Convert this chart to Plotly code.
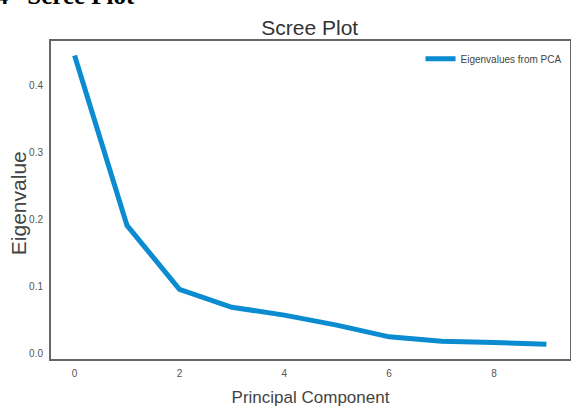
import plotly.graph_objects as go

components = [0, 1, 2, 3, 4, 5, 6, 7, 8, 9]
eigenvalues = [0.445, 0.191, 0.0955, 0.0687, 0.057, 0.042, 0.0245, 0.018, 0.016, 0.0134]
x_ticks = [0, 2, 4, 6, 8]
y_ticks = [0.0, 0.1, 0.2, 0.3, 0.4]
y_tick_labels = ["0.0", "0.1", "0.2", "0.3", "0.4"]

fig = go.Figure()
fig.add_trace(go.Scatter(
    x=components, y=eigenvalues, mode="lines",
    name="Eigenvalues from PCA",
    line=dict(color="#0b8bd0", width=5),
))

fig.update_layout(
    width=571, height=407,
    margin=dict(l=51, r=1, t=41, b=48),
    paper_bgcolor="white", plot_bgcolor="white",
    font=dict(family="Liberation Sans, Arial, sans-serif", color="#444"),
    title=dict(text="Scree Plot", x=0.5425, xanchor="center", y=0.932, yanchor="middle",
               font=dict(size=21, color="#333")),
    showlegend=True,
    legend=dict(x=0.712, y=0.99, xanchor="left", yanchor="top",
                bgcolor="rgba(255,255,255,0)", font=dict(size=10, color="#444"),
                itemwidth=30),
    xaxis=dict(range=[-0.45, 9.45], tickvals=x_ticks, showgrid=False, zeroline=False,
               automargin=False, ticklabelstandoff=4,
               showline=True, linecolor="#666", linewidth=2, mirror=True,
               ticks="", tickfont=dict(size=10, color="#555"),
               title=dict(text="Principal Component", font=dict(size=17, color="#444"), standoff=14)),
    yaxis=dict(range=[-0.0086, 0.4666], tickvals=y_ticks, ticktext=y_tick_labels,
               showgrid=False, zeroline=False, automargin=False, ticklabelstandoff=4,
               showline=True, linecolor="#666", linewidth=2, mirror=True,
               ticks="", tickfont=dict(size=10, color="#555")),
)

fig.add_annotation(
    text="Eigenvalue", xref="paper", yref="paper",
    x=-0.0636, y=0.49, xanchor="center", yanchor="middle", textangle=-90, showarrow=False,
    font=dict(size=21, color="#444"),
)

fig.add_annotation(
    text="<b>4   Scree Plot</b>", xref="paper", yref="paper",
    x=-0.11, y=1.094, xanchor="left", yanchor="bottom", showarrow=False,
    font=dict(family="Liberation Serif, Times New Roman, serif", size=25, color="black"),
)

fig.write_html("out.html", config={"displayModeBar": False},
               post_script="document.body.style.margin='0';document.body.style.overflow='hidden';")
